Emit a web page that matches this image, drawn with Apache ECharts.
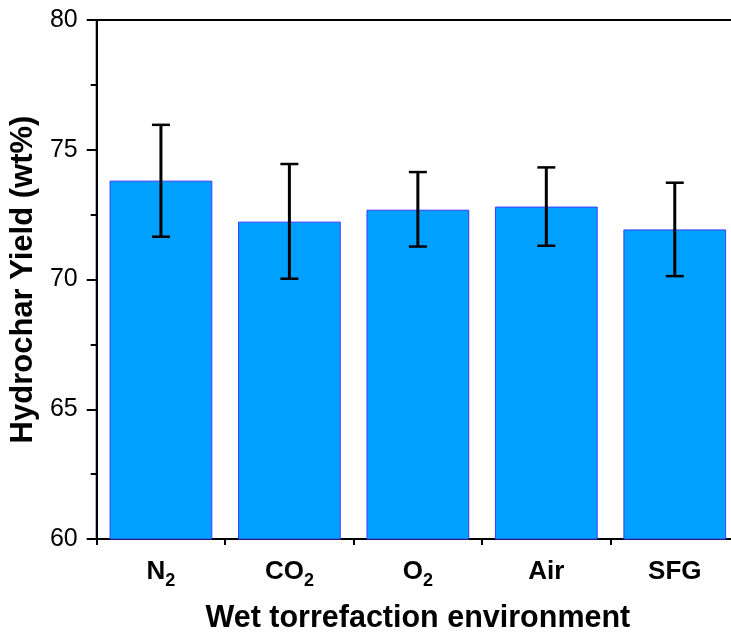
<!DOCTYPE html>
<html>
<head>
<meta charset="utf-8">
<script src="https://cdn.jsdelivr.net/npm/echarts@6/dist/echarts.min.js"></script>
<style>
html,body{margin:0;padding:0;background:#fff;overflow:hidden;width:731px;height:639px;}
#chart{width:745px;height:639px;}
</style>
</head>
<body>
<div id="chart"></div>
<script>
const categories = ['N2', 'CO2', 'O2', 'Air', 'SFG'];
const categoryLabels = ['{m|N}{s|2}', '{m|CO}{s|2}', '{m|O}{s|2}', '{m|Air}', '{m|SFG}'];
const yieldMean = [73.81, 72.23, 72.69, 72.81, 71.93];
const errLow = [71.65, 70.03, 71.27, 71.30, 70.13];
const errHigh = [75.96, 74.45, 74.14, 74.32, 73.73];
const yTicks = [60, 65, 70, 75, 80];

const chart = echarts.init(document.getElementById('chart'));
const font = 'Liberation Sans, Arial, sans-serif';

const errData = categories.map((c, i) => [i, errLow[i], errHigh[i]]);

chart.setOption({
  animation: false,
  grid: {left: 95, top: 20, right: 6, bottom: 99, show: true, borderColor: '#000', borderWidth: 2, backgroundColor: 'transparent'},
  xAxis: [{
    type: 'category',
    data: categories,
    position: 'bottom',
    name: 'Wet torrefaction environment',
    nameLocation: 'middle',
    nameGap: 64,
    nameTextStyle: {fontFamily: font, fontSize: 30.5, fontWeight: 'bold', color: '#000'},
    axisLine: {lineStyle: {color: '#000', width: 2}},
    axisTick: {alignWithLabel: true, interval: 0, length: 10, lineStyle: {color: '#000', width: 2}},
    axisLabel: {
      interval: 0,
      hideOverlap: false,
      margin: 10,
      formatter: (v, i) => categoryLabels[i],
      fontFamily: font, fontSize: 26, fontWeight: 'bold', color: '#000',
      rich: {
        m: {fontFamily: font, fontSize: 26, fontWeight: 'bold', color: '#000', lineHeight: 46},
        s: {fontFamily: font, fontSize: 18, fontWeight: 'bold', color: '#000', lineHeight: 28, padding: [18, 0, 0, 0]}
      }
    },
    splitLine: {show: false}
  }, {
    type: 'category',
    data: categories,
    position: 'bottom',
    axisLine: {show: false},
    axisTick: {show: true, interval: 0, alignWithLabel: false, length: 6, lineStyle: {color: '#000', width: 2}},
    axisLabel: {show: false},
    splitLine: {show: false}
  }],
  yAxis: {
    type: 'value',
    min: 60, max: 80, interval: 5,
    name: 'Hydrochar Yield (wt%)',
    nameLocation: 'middle',
    nameGap: 53,
    nameTextStyle: {fontFamily: font, fontSize: 31, fontWeight: 'bold', color: '#000'},
    axisLine: {show: true, lineStyle: {color: '#000', width: 2}},
    axisTick: {show: true, length: 10, lineStyle: {color: '#000', width: 2}},
    minorTick: {show: true, splitNumber: 2, length: 6, lineStyle: {color: '#000', width: 2}},
    axisLabel: {
      margin: 19,
      fontFamily: font, fontSize: 25, color: '#000',
      formatter: v => yTicks.includes(v) ? String(v) : ''
    },
    splitLine: {show: false}
  },
  series: [{
    type: 'bar',
    data: yieldMean,
    barCategoryGap: '20%',
    itemStyle: {color: '#00A0FF', borderColor: '#3C3CFF', borderWidth: 1}
  }, {
    type: 'custom',
    data: errData,
    z: 10,
    renderItem: (params, api) => {
      const x = api.value(0);
      const lo = api.coord([x, api.value(1)]);
      const hi = api.coord([x, api.value(2)]);
      const hw = 9;
      const style = {stroke: '#000', lineWidth: 2.5};
      return {
        type: 'group',
        children: [
          {type: 'line', shape: {x1: lo[0], y1: lo[1], x2: hi[0], y2: hi[1]}, style: {stroke: '#000', lineWidth: 3}},
          {type: 'line', shape: {x1: hi[0] - hw, y1: hi[1], x2: hi[0] + hw, y2: hi[1]}, style},
          {type: 'line', shape: {x1: lo[0] - hw, y1: lo[1], x2: lo[0] + hw, y2: lo[1]}, style}
        ]
      };
    }
  }]
});
</script>
</body>
</html>
